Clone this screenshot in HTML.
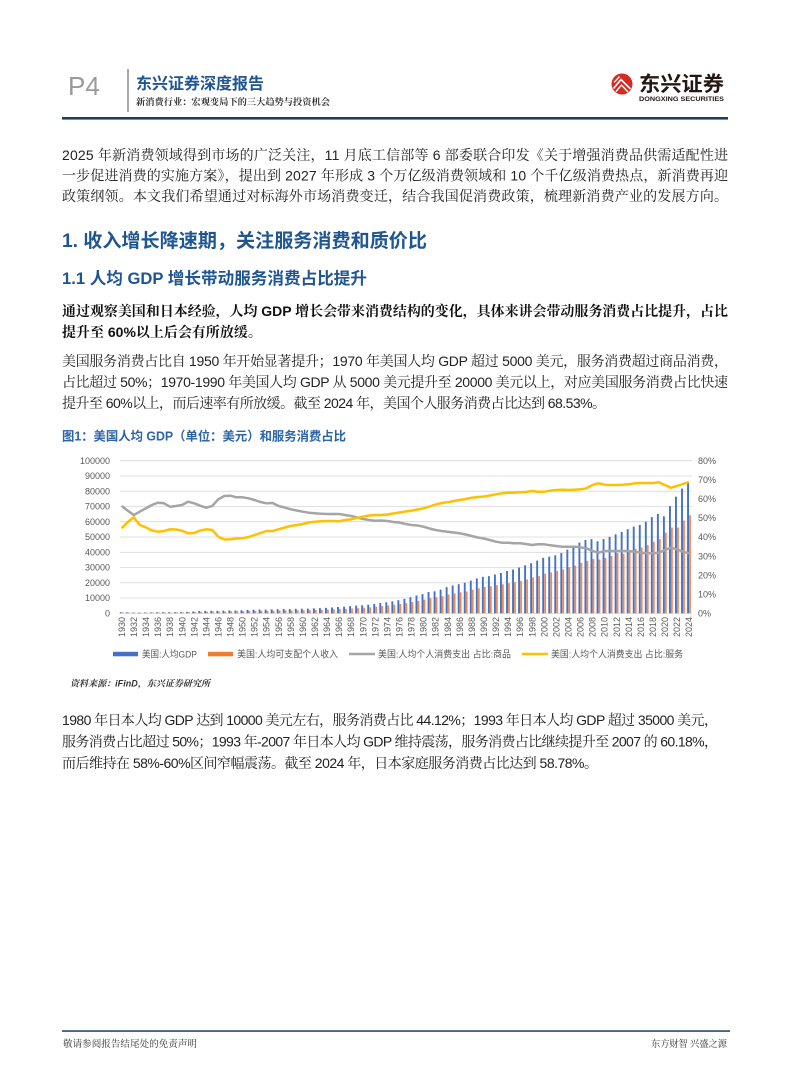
<!DOCTYPE html>
<html lang="zh-CN">
<head>
<meta charset="utf-8">
<style>
html,body{margin:0;padding:0;background:#fff;}
svg{display:block;}
</style>
</head>
<body>
<svg id="pg" xmlns="http://www.w3.org/2000/svg" width="794" height="1077" viewBox="0 0 794 1077">
<rect width="794" height="1077" fill="#ffffff"/>

<!-- Header -->
<text x="68" y="95" font-family="'Liberation Sans',sans-serif" font-size="26" fill="#9a9a9a">P4</text>
<line x1="128" y1="69" x2="128" y2="112" stroke="#8a8a8a" stroke-width="1.5"/>
<text x="136" y="89" font-family="'Liberation Sans','Noto Sans CJK SC',sans-serif" font-size="16" font-weight="bold" fill="#1f5591" textLength="128" lengthAdjust="spacingAndGlyphs">东兴证券深度报告</text>
<text x="136" y="105" font-family="'Liberation Serif','Noto Serif CJK SC','Noto Serif CJK JP',serif" font-size="9.3" font-weight="bold" fill="#333" textLength="194" lengthAdjust="spacingAndGlyphs">新消费行业：宏观变局下的三大趋势与投资机会</text>
<!-- logo -->
<circle cx="622" cy="84" r="10.5" fill="#d42a20"/>
<path d="M613.5,88.5 L621,79.5 L630.5,89" fill="none" stroke="#fff" stroke-width="1.7"/>
<path d="M616,91.5 L621.5,85 L628,92" fill="none" stroke="#fff" stroke-width="1.4"/>
<path d="M614,82.5 L619.5,76.5" fill="none" stroke="#fff" stroke-width="1.3"/>
<text x="639" y="91" font-family="'Liberation Sans','Noto Sans CJK SC',sans-serif" font-size="20.5" font-weight="bold" fill="#231815" textLength="85" lengthAdjust="spacingAndGlyphs">东兴证券</text>
<text x="639" y="101" font-family="'Liberation Sans',sans-serif" font-size="6.3" font-weight="bold" fill="#231815" textLength="85" lengthAdjust="spacingAndGlyphs">DONGXING SECURITIES</text>
<rect x="62" y="117" width="666" height="2.6" fill="#1d3f63"/>

<!-- Paragraph 1 -->
<g font-family="'Liberation Sans','Noto Serif CJK SC','Noto Serif CJK JP',serif" font-size="14" fill="#222">
<text x="62" y="160" textLength="666" lengthAdjust="spacing">2025 年新消费领域得到市场的广泛关注，11 月底工信部等 6 部委联合印发《关于增强消费品供需适配性进</text>
<text x="62" y="180.5" textLength="666" lengthAdjust="spacing">一步促进消费的实施方案》，提出到 2027 年形成 3 个万亿级消费领域和 10 个千亿级消费热点，新消费再迎</text>
<text x="62" y="201" textLength="666" lengthAdjust="spacing">政策纲领。本文我们希望通过对标海外市场消费变迁，结合我国促消费政策，梳理新消费产业的发展方向。</text>
</g>

<!-- Headings -->
<text x="62" y="247" font-family="'Liberation Sans','Noto Sans CJK SC',sans-serif" font-size="19" font-weight="bold" fill="#1f5591" textLength="365" lengthAdjust="spacingAndGlyphs">1. 收入增长降速期，关注服务消费和质价比</text>
<text x="62" y="284" font-family="'Liberation Sans','Noto Sans CJK SC',sans-serif" font-size="16.5" font-weight="bold" fill="#1f5591" textLength="305" lengthAdjust="spacingAndGlyphs">1.1 人均 GDP 增长带动服务消费占比提升</text>

<!-- Bold paragraph -->
<g font-family="'Liberation Sans','Noto Serif CJK SC','Noto Serif CJK JP',serif" font-size="14" font-weight="bold" fill="#111">
<text x="62" y="316" textLength="666" lengthAdjust="spacing">通过观察美国和日本经验，人均 GDP 增长会带来消费结构的变化，具体来讲会带动服务消费占比提升，占比</text>
<text x="62" y="337">提升至 60%以上后会有所放缓。</text>
</g>

<!-- Paragraph 3 -->
<g font-family="'Liberation Sans','Noto Serif CJK SC','Noto Serif CJK JP',serif" font-size="14" fill="#222">
<text x="62" y="366" textLength="666" lengthAdjust="spacing">美国服务消费占比自 1950 年开始显著提升；1970 年美国人均 GDP 超过 5000 美元，服务消费超过商品消费，</text>
<text x="62" y="387" textLength="666" lengthAdjust="spacing">占比超过 50%；1970-1990 年美国人均 GDP 从 5000 美元提升至 20000 美元以上，对应美国服务消费占比快速</text>
<text x="62" y="408" textLength="544" lengthAdjust="spacing">提升至 60%以上，而后速率有所放缓。截至 2024 年，美国个人服务消费占比达到 68.53%。</text>
</g>

<!-- Figure title -->
<text x="62" y="440.5" font-family="'Liberation Sans','Noto Sans CJK SC',sans-serif" font-size="12.5" font-weight="bold" fill="#2c64a8" textLength="284" lengthAdjust="spacingAndGlyphs">图1：美国人均 GDP（单位：美元）和服务消费占比</text>

<!-- Chart gridlines -->
<g stroke="#d9d9d9" stroke-width="0.8">
<line x1="120" y1="613.3" x2="692" y2="613.3"/>
<line x1="120" y1="598.0" x2="692" y2="598.0"/>
<line x1="120" y1="582.8" x2="692" y2="582.8"/>
<line x1="120" y1="567.5" x2="692" y2="567.5"/>
<line x1="120" y1="552.3" x2="692" y2="552.3"/>
<line x1="120" y1="537.0" x2="692" y2="537.0"/>
<line x1="120" y1="521.7" x2="692" y2="521.7"/>
<line x1="120" y1="506.5" x2="692" y2="506.5"/>
<line x1="120" y1="491.2" x2="692" y2="491.2"/>
<line x1="120" y1="476.0" x2="692" y2="476.0"/>
<line x1="120" y1="460.7" x2="692" y2="460.7"/>
</g>

<!-- Left axis labels -->
<g font-family="'Liberation Sans',sans-serif" font-size="9" fill="#595959" text-anchor="end">
<text x="110" y="616.5">0</text>
<text x="110" y="601.2">10000</text>
<text x="110" y="586.0">20000</text>
<text x="110" y="570.7">30000</text>
<text x="110" y="555.5">40000</text>
<text x="110" y="540.2">50000</text>
<text x="110" y="524.9">60000</text>
<text x="110" y="509.7">70000</text>
<text x="110" y="494.4">80000</text>
<text x="110" y="479.2">90000</text>
<text x="110" y="463.9">100000</text>
</g>

<!-- Right axis labels -->
<g font-family="'Liberation Sans',sans-serif" font-size="9" fill="#595959">
<text x="698" y="616.5">0%</text>
<text x="698" y="597.4">10%</text>
<text x="698" y="578.3">20%</text>
<text x="698" y="559.3">30%</text>
<text x="698" y="540.2">40%</text>
<text x="698" y="521.1">50%</text>
<text x="698" y="502.0">60%</text>
<text x="698" y="482.9">70%</text>
<text x="698" y="463.9">80%</text>
</g>

<!-- Bars and lines (drawn by script) -->
<g id="bars"></g>
<polyline id="goods" fill="none" stroke="#a5a5a5" stroke-width="2.5" stroke-linejoin="round" points=""/>
<polyline id="serv" fill="none" stroke="#ffc000" stroke-width="2.5" stroke-linejoin="round" points=""/>

<!-- Year labels -->
<g font-family="'Liberation Sans',sans-serif" font-size="9" fill="#595959" text-anchor="end">
<text transform="translate(121.7,617) rotate(-90)" dy="3.2">1930</text>
<text transform="translate(133.77,617) rotate(-90)" dy="3.2">1932</text>
<text transform="translate(145.84,617) rotate(-90)" dy="3.2">1934</text>
<text transform="translate(157.91,617) rotate(-90)" dy="3.2">1936</text>
<text transform="translate(169.98,617) rotate(-90)" dy="3.2">1938</text>
<text transform="translate(182.05,617) rotate(-90)" dy="3.2">1940</text>
<text transform="translate(194.12,617) rotate(-90)" dy="3.2">1942</text>
<text transform="translate(206.19,617) rotate(-90)" dy="3.2">1944</text>
<text transform="translate(218.26,617) rotate(-90)" dy="3.2">1946</text>
<text transform="translate(230.33,617) rotate(-90)" dy="3.2">1948</text>
<text transform="translate(242.4,617) rotate(-90)" dy="3.2">1950</text>
<text transform="translate(254.47,617) rotate(-90)" dy="3.2">1952</text>
<text transform="translate(266.54,617) rotate(-90)" dy="3.2">1954</text>
<text transform="translate(278.61,617) rotate(-90)" dy="3.2">1956</text>
<text transform="translate(290.68,617) rotate(-90)" dy="3.2">1958</text>
<text transform="translate(302.75,617) rotate(-90)" dy="3.2">1960</text>
<text transform="translate(314.82,617) rotate(-90)" dy="3.2">1962</text>
<text transform="translate(326.89,617) rotate(-90)" dy="3.2">1964</text>
<text transform="translate(338.96,617) rotate(-90)" dy="3.2">1966</text>
<text transform="translate(351.03,617) rotate(-90)" dy="3.2">1968</text>
<text transform="translate(363.1,617) rotate(-90)" dy="3.2">1970</text>
<text transform="translate(375.17,617) rotate(-90)" dy="3.2">1972</text>
<text transform="translate(387.24,617) rotate(-90)" dy="3.2">1974</text>
<text transform="translate(399.31,617) rotate(-90)" dy="3.2">1976</text>
<text transform="translate(411.38,617) rotate(-90)" dy="3.2">1978</text>
<text transform="translate(423.45,617) rotate(-90)" dy="3.2">1980</text>
<text transform="translate(435.52,617) rotate(-90)" dy="3.2">1982</text>
<text transform="translate(447.59,617) rotate(-90)" dy="3.2">1984</text>
<text transform="translate(459.66,617) rotate(-90)" dy="3.2">1986</text>
<text transform="translate(471.73,617) rotate(-90)" dy="3.2">1988</text>
<text transform="translate(483.8,617) rotate(-90)" dy="3.2">1990</text>
<text transform="translate(495.87,617) rotate(-90)" dy="3.2">1992</text>
<text transform="translate(507.94,617) rotate(-90)" dy="3.2">1994</text>
<text transform="translate(520.01,617) rotate(-90)" dy="3.2">1996</text>
<text transform="translate(532.08,617) rotate(-90)" dy="3.2">1998</text>
<text transform="translate(544.15,617) rotate(-90)" dy="3.2">2000</text>
<text transform="translate(556.22,617) rotate(-90)" dy="3.2">2002</text>
<text transform="translate(568.29,617) rotate(-90)" dy="3.2">2004</text>
<text transform="translate(580.36,617) rotate(-90)" dy="3.2">2006</text>
<text transform="translate(592.43,617) rotate(-90)" dy="3.2">2008</text>
<text transform="translate(604.5,617) rotate(-90)" dy="3.2">2010</text>
<text transform="translate(616.57,617) rotate(-90)" dy="3.2">2012</text>
<text transform="translate(628.64,617) rotate(-90)" dy="3.2">2014</text>
<text transform="translate(640.71,617) rotate(-90)" dy="3.2">2016</text>
<text transform="translate(652.78,617) rotate(-90)" dy="3.2">2018</text>
<text transform="translate(664.85,617) rotate(-90)" dy="3.2">2020</text>
<text transform="translate(676.92,617) rotate(-90)" dy="3.2">2022</text>
<text transform="translate(688.99,617) rotate(-90)" dy="3.2">2024</text>
</g>

<!-- Legend -->
<rect x="113" y="651.8" width="25" height="4.5" fill="#4472c4"/>
<rect x="208" y="651.8" width="25" height="4.5" fill="#ed7d31"/>
<line x1="349" y1="654" x2="375" y2="654" stroke="#a5a5a5" stroke-width="2.5"/>
<line x1="522" y1="654" x2="548" y2="654" stroke="#ffc000" stroke-width="2.5"/>
<g font-family="'Liberation Sans','Noto Sans CJK SC',sans-serif" font-size="9.5" fill="#595959">
<text x="142" y="657.5" textLength="55" lengthAdjust="spacingAndGlyphs">美国:人均GDP</text>
<text x="237" y="657.5" textLength="101" lengthAdjust="spacingAndGlyphs">美国:人均可支配个人收入</text>
<text x="378" y="657.5" textLength="133" lengthAdjust="spacingAndGlyphs">美国:人均个人消费支出 占比:商品</text>
<text x="551" y="657.5" textLength="132" lengthAdjust="spacingAndGlyphs">美国:人均个人消费支出 占比:服务</text>
</g>

<!-- Source -->
<text x="70" y="686.5" font-family="'Liberation Sans','Noto Serif CJK SC','Noto Serif CJK JP',serif" font-size="9" font-weight="bold" font-style="italic" fill="#333" textLength="140" lengthAdjust="spacingAndGlyphs">资料来源：iFinD，东兴证券研究所</text>

<!-- Japan paragraph -->
<g font-family="'Liberation Sans','Noto Serif CJK SC','Noto Serif CJK JP',serif" font-size="14" fill="#222">
<text x="62" y="725" textLength="656" lengthAdjust="spacing">1980 年日本人均 GDP 达到 10000 美元左右，服务消费占比 44.12%；1993 年日本人均 GDP 超过 35000 美元，</text>
<text x="62" y="746.5" textLength="656" lengthAdjust="spacing">服务消费占比超过 50%；1993 年-2007 年日本人均 GDP 维持震荡，服务消费占比继续提升至 2007 的 60.18%，</text>
<text x="62" y="768" textLength="536" lengthAdjust="spacing">而后维持在 58%-60%区间窄幅震荡。截至 2024 年，日本家庭服务消费占比达到 58.78%。</text>
</g>

<!-- Footer -->
<rect x="62" y="1030.3" width="668" height="1.5" fill="#1d3f63"/>
<text x="63" y="1047" font-family="'Liberation Serif','Noto Serif CJK SC','Noto Serif CJK JP',serif" font-size="9.5" fill="#333" textLength="134" lengthAdjust="spacingAndGlyphs">敬请参阅报告结尾处的免责声明</text>
<text x="651" y="1047" font-family="'Liberation Serif','Noto Serif CJK SC','Noto Serif CJK JP',serif" font-size="9.5" fill="#333" textLength="76" lengthAdjust="spacingAndGlyphs">东方财智 兴盛之源</text>
</svg>

<script>
(function(){
var gdp=[740,620,470,450,520,570,650,710,660,700,
770,950,1210,1480,1620,1640,1600,1730,1880,1850,
1990,2240,2340,2440,2410,2590,2680,2770,2760,2960,
3010,3050,3250,3380,3570,3830,4150,4340,4700,5030,
5230,5610,6100,6740,7240,7820,8610,9450,10560,11670,
12550,13950,14430,15540,17120,18240,19070,20040,21420,22860,
23890,24340,25440,26390,27690,28690,29970,31460,32850,34520,
36330,37130,38020,39500,41710,44110,46300,48050,48570,47190,
48650,50070,51780,53290,55120,56850,57930,60060,62990,65120,
63530,70250,76400,81700,85800];
var dpi=[605,530,390,360,410,455,520,555,505,540,
575,700,875,995,1085,1090,1145,1185,1295,1280,
1385,1510,1565,1635,1645,1735,1820,1885,1915,1990,
2030,2085,2180,2255,2410,2575,2765,2930,3160,3385,
3650,3925,4245,4740,5130,5600,6080,6600,7350,8140,
9000,9890,10480,11160,12310,13040,13710,14350,15400,16400,
17260,17710,18500,18990,19720,20490,21290,22200,23510,24340,
26000,26810,27720,28720,30200,31270,33040,34380,35550,35230,
36300,37650,39470,39050,40900,42300,43100,44700,46900,48600,
52800,56200,56200,60800,64300];
var goods=[506,510.7,515,511.7,508.3,505,502.7,503.3,506.7,506,
505,501.7,503.3,505.7,507.7,506,499.3,496,495.7,497.3,
497.3,498.3,500,502,503.3,503,506,507.5,509.3,510.5,
511.7,512.7,513.3,513.7,514,514,514,515,516,517.5,
519,520,520.7,520.5,521,522,522.5,524,525,525.5,
526.7,528.5,530,531,531.7,532.5,533.3,534.5,536,537.5,
538.5,540,541.7,542.7,542.7,543.3,543.3,544,545,544.3,
544.3,545.3,546,546.7,546.7,546.7,547.3,548.3,551,552.7,
551,551,551,551,551,551.7,552.7,553.3,553.3,552.7,
550,547.7,549.3,551.7,553.3];
var serv=[528.3,522,517.3,525,527.3,530.5,531.7,531,529.3,529.5,
530.7,533.3,533,530.5,529.3,530,536.7,539.5,539.3,538.5,
538.3,537,535,533,531,531,529.3,527.5,526,525,
524,522.5,521.7,521.3,521,521,521.3,520,519.3,518,
516.7,515.5,515,515,514.5,513.5,512.5,511.5,510.7,509.5,
508.3,506.5,504.5,503,502.3,501,500,499,497.7,497,
496.5,495.5,494.3,493.3,492.7,492.7,492.3,492,491,491.7,
491.7,490.7,490,489.7,490,489.7,489.3,488.3,485,483.3,
484.7,485,485,484.7,484.3,483.3,483,483,483,482.3,
485,487.7,486,484,482];
var NS='http://www.w3.org/2000/svg';
var g=document.getElementById('bars');
var X0=121.7,DX=6.035,Y0=613.3,S=15.26/10000;
var pg='',ps='';
for(var i=0;i<95;i++){
  var c=X0+i*DX;
  var h1=Math.max(gdp[i]*S,0.6),h2=Math.max(dpi[i]*S,0.5);
  var r1=document.createElementNS(NS,'rect');
  r1.setAttribute('x',(c-1.9).toFixed(2));r1.setAttribute('y',(Y0-h1).toFixed(2));
  r1.setAttribute('width','1.9');r1.setAttribute('height',h1.toFixed(2));r1.setAttribute('fill','#4472c4');
  g.appendChild(r1);
  var r2=document.createElementNS(NS,'rect');
  r2.setAttribute('x',(c+0.1).toFixed(2));r2.setAttribute('y',(Y0-h2).toFixed(2));
  r2.setAttribute('width','1.8');r2.setAttribute('height',h2.toFixed(2));r2.setAttribute('fill','#ef8a55');
  g.appendChild(r2);
  pg+=c.toFixed(2)+','+goods[i]+' ';
  ps+=c.toFixed(2)+','+serv[i]+' ';
}
document.getElementById('goods').setAttribute('points',pg);
document.getElementById('serv').setAttribute('points',ps);
})();
</script>
</body>
</html>
